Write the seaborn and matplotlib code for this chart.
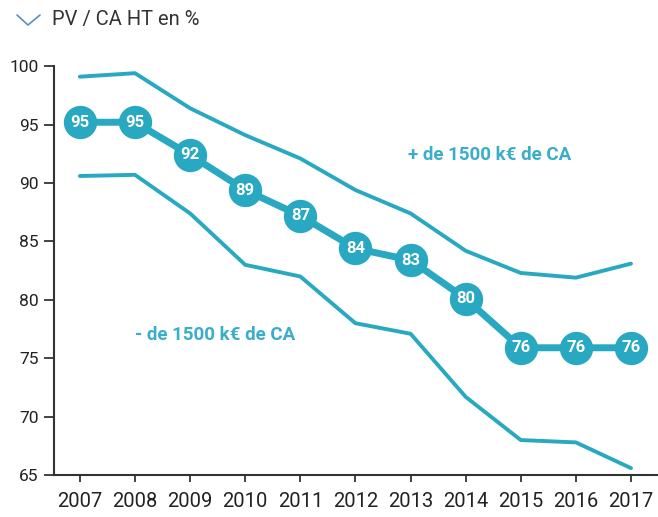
import matplotlib.pyplot as plt
from matplotlib.lines import Line2D
import seaborn as sns

years = [2007, 2008, 2009, 2010, 2011, 2012, 2013, 2014, 2015, 2016, 2017]
plus_1500 = [99.1, 99.4, 96.4, 94.1, 92.1, 89.4, 87.4, 84.2, 82.3, 81.9, 83.1]
moins_1500 = [90.6, 90.7, 87.4, 83.0, 82.0, 78.0, 77.1, 71.7, 68.0, 67.8, 65.6]
moyenne = [95.2, 95.2, 92.4, 89.4, 87.2, 84.4, 83.4, 80.1, 75.9, 75.9, 75.9]
moyenne_labels = ["95", "95", "92", "89", "87", "84", "83", "80", "76", "76", "76"]
y_ticks = [65, 70, 75, 80, 85, 90, 95, 100]

teal = "#29a8c2"
narrow = ["Roboto", "DejaVu Sans"]

sns.set_style("white")
plt.rcParams["font.family"] = narrow

fig = plt.figure(figsize=(6.58, 5.17), dpi=100)
ax = fig.add_axes([0.082, 0.081, 0.918, 0.791])

sns.lineplot(x=years, y=plus_1500, color=teal, linewidth=2.8, ax=ax)
sns.lineplot(x=years, y=moins_1500, color=teal, linewidth=2.8, ax=ax)
sns.lineplot(x=years, y=moyenne, color=teal, linewidth=5, marker="o",
             markersize=24, markeredgewidth=0, ax=ax)

for x, y, lab in zip(years, moyenne, moyenne_labels):
    ax.text(x, y, lab, color="white", fontsize=12, fontweight="bold",
            ha="center", va="center", family=narrow)

ax.text(2014.44, 92.4, "+ de 1500 k\u20ac de CA", color="#3aaec8", fontsize=13.5,
        fontweight="bold", ha="center", va="center")
ax.text(2009.45, 77.0, "- de 1500 k\u20ac de CA", color="#3aaec8", fontsize=13.5,
        fontweight="bold", ha="center", va="center")

ax.set_xlim(2006.53, 2017.49)
ax.set_ylim(65, 100)
ax.set_xticks(years)
ax.set_yticks(y_ticks)
ax.tick_params(axis="x", labelsize=14.5, colors="#222222", length=5, width=1.2, pad=7)
ax.tick_params(axis="y", labelsize=12.5, colors="#222222", length=7, width=1.2, pad=4)
ax.tick_params(left=True, bottom=True)

for side in ["top", "right"]:
    ax.spines[side].set_visible(False)
for side in ["left", "bottom"]:
    ax.spines[side].set_color("#333333")
    ax.spines[side].set_linewidth(1.5)

# chevron and title
fig.add_artist(Line2D([17 / 658, 28 / 658, 40 / 658], [1 - 15 / 517, 1 - 25 / 517, 1 - 15 / 517],
                      color="#5a8fc0", linewidth=1.2))
fig.text(52 / 658, 1 - 19 / 517, "PV / CA HT en %", fontsize=14.5, color="#333333",
         ha="left", va="center")

plt.savefig("out.png", dpi=100)
